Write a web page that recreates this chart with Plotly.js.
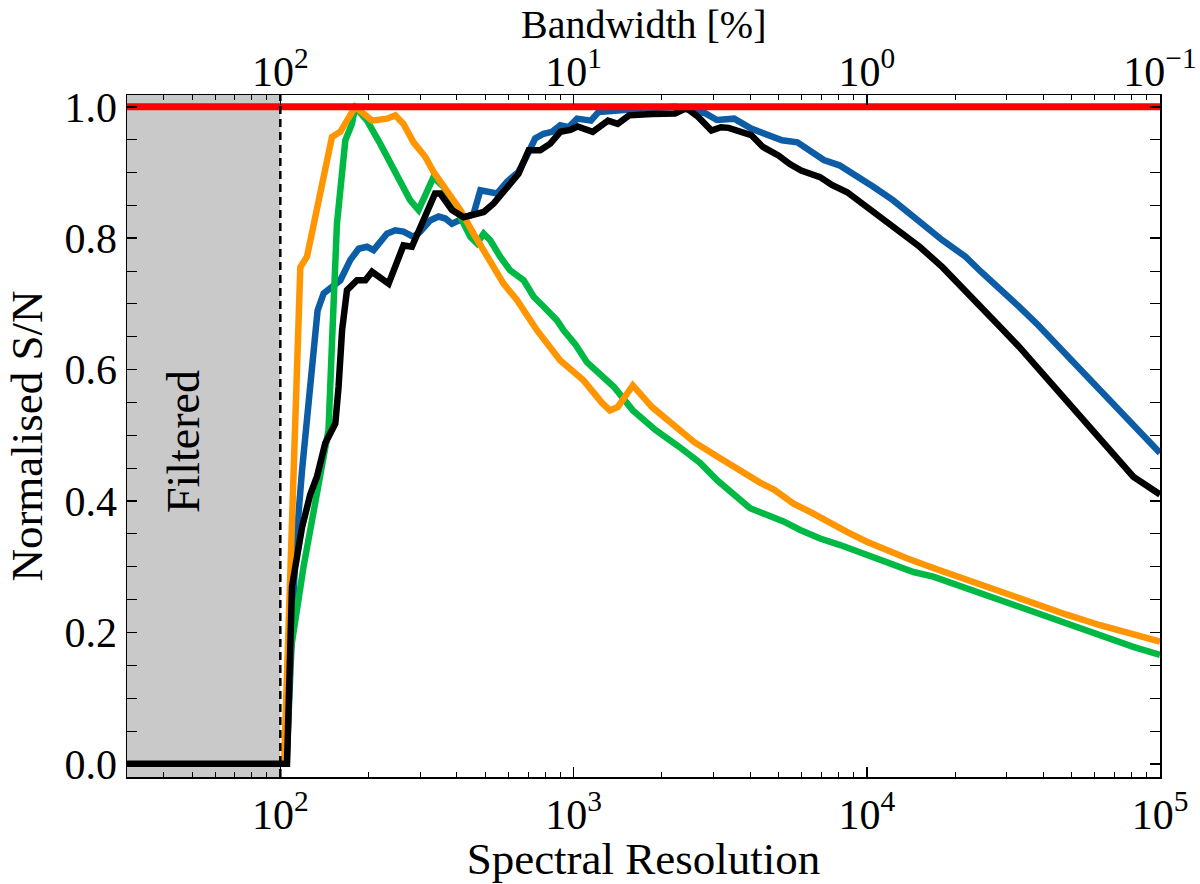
<!DOCTYPE html>
<html>
<head>
<meta charset="utf-8">
<script src="https://cdn.plot.ly/plotly-3.0.1.min.js"></script>
<style>
  html, body { margin: 0; padding: 0; background: #fff; }
  #chart { width: 1200px; height: 884px; }
</style>
</head>
<body>
<div id="chart"></div>
<script>
// values (x = spectral resolution, y = normalised S/N)
const blackR = [30, 105.4, 109.6, 118.6, 126.5, 133.3, 142.3, 154, 158, 162.4, 168.8, 182.7, 195, 205.5, 234, 263, 281, 308, 337, 351, 385, 422, 456, 494, 534, 593, 649, 703, 770, 833, 901, 975, 1032, 1162, 1311, 1414, 1547, 1852, 2219, 2428, 2656, 2952, 3180, 3379, 3700, 4036, 4423, 4994, 5466, 5976, 6930, 7604, 8575, 9985, 11580, 13440, 15150, 18110, 21120, 24560, 28510, 33050, 38370, 44620, 51830, 60220, 70000, 81100, 100000];
const blackSN = [0, 0, 0.27, 0.36, 0.41, 0.437, 0.488, 0.518, 0.574, 0.66, 0.721, 0.736, 0.736, 0.749, 0.731, 0.789, 0.787, 0.827, 0.868, 0.868, 0.843, 0.832, 0.835, 0.840, 0.853, 0.878, 0.898, 0.934, 0.934, 0.944, 0.962, 0.965, 0.970, 0.962, 0.979, 0.974, 0.987, 0.989, 0.990, 0.998, 0.985, 0.964, 0.969, 0.968, 0.962, 0.957, 0.939, 0.926, 0.913, 0.903, 0.893, 0.881, 0.870, 0.848, 0.825, 0.802, 0.787, 0.756, 0.726, 0.696, 0.665, 0.635, 0.602, 0.569, 0.536, 0.503, 0.470, 0.437, 0.41];

const blueR = [105, 112.5, 118.6, 124.9, 134, 140.5, 160.2, 173.3, 185, 197.6, 208, 231, 246.6, 263, 284.6, 300, 324, 346.5, 365.5, 384.7, 411, 456, 481, 507, 548, 593, 649, 694, 740, 790, 844, 901, 962, 1028, 1146, 1216, 1414, 1691, 2219, 2818, 3083, 3530, 4036, 4556, 5139, 5800, 6338, 7139, 8066, 9371, 10560, 12280, 13440, 15150, 18110, 21720, 24510, 27620, 33050, 38370, 44620, 51830, 60220, 70000, 81100, 100000];
const blueSN = [0, 0.32, 0.447, 0.549, 0.69, 0.716, 0.736, 0.767, 0.784, 0.787, 0.782, 0.807, 0.812, 0.810, 0.802, 0.810, 0.827, 0.833, 0.830, 0.822, 0.827, 0.837, 0.873, 0.870, 0.868, 0.886, 0.901, 0.926, 0.952, 0.959, 0.962, 0.972, 0.969, 0.982, 0.979, 0.992, 0.995, 0.997, 1.0, 0.990, 0.980, 0.982, 0.967, 0.957, 0.949, 0.946, 0.934, 0.919, 0.911, 0.891, 0.878, 0.858, 0.845, 0.825, 0.797, 0.772, 0.749, 0.729, 0.696, 0.668, 0.637, 0.607, 0.576, 0.546, 0.513, 0.473];

const greenR = [105, 108.2, 120, 136.8, 146, 150, 156, 166.6, 175.5, 180, 197.6, 219, 250, 277, 296, 316, 333, 360.6, 400, 444.4, 468.6, 493.6, 520, 562, 608, 676, 731, 790, 878, 925, 1016, 1112, 1253, 1372, 1593, 1907, 2285, 2703, 3083, 3512, 4000, 4556, 5200, 5929, 6930, 8117, 10000, 11720, 14430, 16860, 21960, 28510, 36960, 48070, 62500, 81100, 100000];
const greenSN = [0, 0.169, 0.300, 0.447, 0.508, 0.64, 0.822, 0.949, 0.974, 1.0, 0.979, 0.944, 0.893, 0.858, 0.843, 0.873, 0.893, 0.878, 0.843, 0.802, 0.792, 0.807, 0.797, 0.772, 0.751, 0.736, 0.711, 0.696, 0.675, 0.660, 0.638, 0.611, 0.591, 0.574, 0.538, 0.508, 0.483, 0.458, 0.432, 0.409, 0.389, 0.379, 0.369, 0.356, 0.343, 0.333, 0.318, 0.305, 0.292, 0.285, 0.267, 0.249, 0.232, 0.214, 0.194, 0.178, 0.166];

const orangeR = [103, 108.2, 112.5, 115, 117, 123.3, 150, 160.2, 173.3, 180, 205.5, 231, 246.6, 263, 284.6, 312, 333, 370, 411, 456, 507, 577, 641, 750, 901, 1079, 1253, 1331, 1414, 1593, 1852, 2151, 2574, 3161, 3700, 4325, 4839, 5628, 6577, 7304, 8555, 10000, 11720, 13700, 16860, 21960, 28510, 36960, 48070, 62500, 81100, 100000];
const orangeSN = [0, 0.32, 0.549, 0.68, 0.756, 0.772, 0.954, 0.962, 0.990, 1.0, 0.979, 0.982, 0.987, 0.974, 0.946, 0.924, 0.901, 0.873, 0.843, 0.807, 0.772, 0.731, 0.706, 0.660, 0.614, 0.584, 0.549, 0.538, 0.543, 0.576, 0.543, 0.518, 0.490, 0.465, 0.445, 0.428, 0.417, 0.396, 0.381, 0.369, 0.353, 0.338, 0.325, 0.313, 0.298, 0.280, 0.262, 0.244, 0.227, 0.211, 0.196, 0.186];

// reference level (max normalised S/N)
const refR = [30, 100000];
const refSN = [1, 1];

// filtered region below this resolution
const filterMin = 30;
const filterCut = 100;

// tick labels
const bottomTickVals = [100, 1000, 10000, 100000];
const bottomTickText = ['10<sup>2</sup>', '10<sup>3</sup>', '10<sup>4</sup>', '10<sup>5</sup>'];
const topTickText = ['10<sup>2</sup>', '10<sup>1</sup>', '10<sup>0</sup>', '10<sup>\u22121</sup>'];
const yTickVals = [0, 0.2, 0.4, 0.6, 0.8, 1.0];

// minor log ticks 2..9 in each decade
let minorVals = [];
for (let d = 1; d <= 4; d++) {
  for (let k = 2; k <= 9; k++) {
    let v = k * Math.pow(10, d);
    if (v >= filterMin && v <= 100000) minorVals.push(v);
  }
}

const font = 'Liberation Serif, DejaVu Serif, serif';
const xRange = [Math.log10(filterMin), 5];

function line(x, y, color, w, xaxis) {
  return {
    type: 'scatter', mode: 'lines', x: x, y: y,
    xaxis: xaxis || 'x', yaxis: 'y',
    line: { color: color, width: w },
    showlegend: false, hoverinfo: 'skip'
  };
}

let traces = [
  line(blueR, blueSN, '#0C5DA5', 6.5),
  line(greenR, greenSN, '#00B945', 6.5),
  line(orangeR, orangeSN, '#FF9500', 6.5),
  line(blackR, blackSN, '#000000', 6.5),
  line(refR, refSN, '#FF0000', 7, 'x2')
];

let layout = {
  width: 1200, height: 884,
  margin: { l: 127, r: 40, t: 95, b: 107, pad: 0 },
  paper_bgcolor: 'white', plot_bgcolor: 'white',
  font: { family: font, size: 42, color: '#000' },
  xaxis: {
    type: 'log', range: xRange,
    tickmode: 'array', tickvals: bottomTickVals, ticktext: bottomTickText,
    ticks: 'inside', ticklen: 10, tickwidth: 1.5, tickcolor: '#000',
    showline: true, linecolor: '#000', linewidth: 1.5, mirror: true,
    showgrid: false, zeroline: false,
    tickfont: { family: font, size: 42 },
    minor: { tickmode: 'array', tickvals: minorVals, ticks: 'inside', ticklen: 5, tickwidth: 1, tickcolor: '#000', showgrid: false },
    title: { text: 'Spectral Resolution', font: { family: font, size: 45 }, standoff: 4 }
  },
  xaxis2: {
    type: 'log', range: xRange, overlaying: 'x', side: 'top', anchor: 'y',
    tickmode: 'array', tickvals: bottomTickVals, ticktext: topTickText,
    ticks: 'inside', ticklen: 10, tickwidth: 1.5, tickcolor: '#000',
    ticklabelstandoff: 0,
    showline: false, showgrid: false, zeroline: false,
    tickfont: { family: font, size: 42 },
    minor: { tickmode: 'array', tickvals: minorVals, ticks: 'inside', ticklen: 5, tickwidth: 1, tickcolor: '#000', showgrid: false }
  },
  yaxis: {
    range: [-0.02, 1.018],
    tickmode: 'array', tickvals: yTickVals, tickformat: '.1f',
    ticks: 'inside', ticklen: 10, tickwidth: 1.5, tickcolor: '#000',
    showline: true, linecolor: '#000', linewidth: 1.5, mirror: 'allticks',
    showgrid: false, zeroline: false,
    tickfont: { family: font, size: 42 },
    minor: { dtick: 0.05, ticks: 'inside', ticklen: 5, tickwidth: 1, tickcolor: '#000', showgrid: false },
    title: { text: 'Normalised S/N', font: { family: font, size: 45 }, standoff: 8 }
  },
  shapes: [
    { type: 'rect', xref: 'x', yref: 'paper', x0: filterMin, x1: filterCut, y0: 0, y1: 1,
      fillcolor: '#c9c9c9', line: { width: 0 }, layer: 'below' },
    { type: 'line', xref: 'x', yref: 'paper', x0: filterCut, x1: filterCut, y0: 0, y1: 1,
      line: { color: '#000', width: 2.5, dash: '8px,5px' }, layer: 'above' }
  ],
  annotations: [
    { text: 'Filtered', xref: 'x', yref: 'y', x: Math.log10(47), y: 0.49,
      textangle: -90, showarrow: false, font: { family: font, size: 46, color: '#000' } },
    // top axis title
    { text: 'Bandwidth [%]', xref: 'paper', yref: 'paper', x: 0.5, y: 1.104,
      yanchor: 'middle', showarrow: false, font: { family: font, size: 40, color: '#000' } }
  ]
};

Plotly.newPlot('chart', traces, layout, { staticPlot: true, displayModeBar: false });
</script>
</body>
</html>
